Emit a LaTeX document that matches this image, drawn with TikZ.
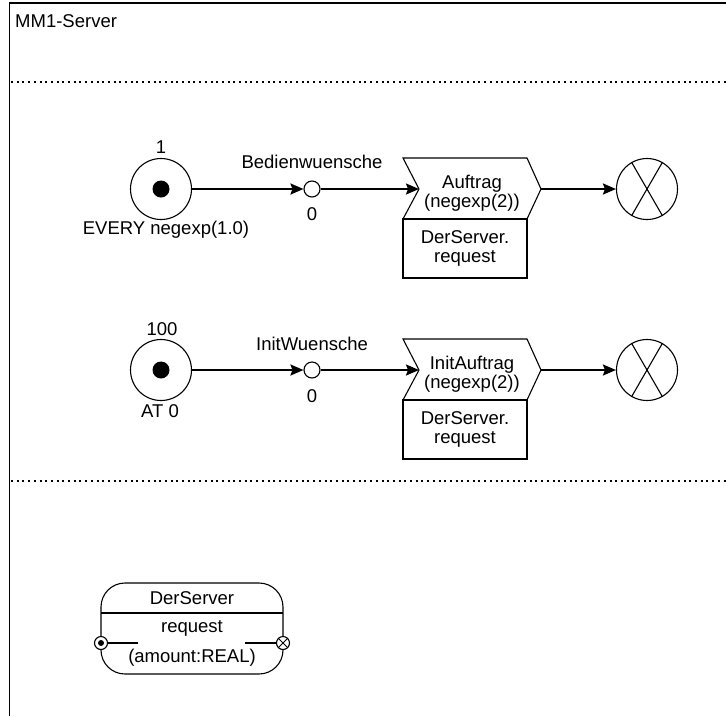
\documentclass[tikz,border=0pt]{standalone}
\usepackage{fontspec}
\setmainfont{Liberation Sans}
\usetikzlibrary{arrows.meta}
\begin{document}
\begin{tikzpicture}[x=1pt,y=-1pt,
  every node/.style={font=\fontsize{18.5}{21}\selectfont},
  lbl/.style={inner sep=0pt},
  srccirc/.style={draw,circle,line width=1.1pt,minimum size=61pt,inner sep=0pt},
  srcdot/.style={fill,circle,minimum size=17pt,inner sep=0pt},
  placecirc/.style={draw,circle,line width=1.1pt,minimum size=16pt,inner sep=0pt,fill=white},
  sinkcirc/.style={draw,circle,line width=1.1pt,minimum size=61pt,inner sep=0pt},
  portcirc/.style={draw,circle,line width=1.1pt,minimum size=13pt,inner sep=0pt},
  flow/.style={line width=2pt,-{Stealth[length=13pt,width=11pt,inset=2pt]}},
  thin/.style={line width=1.1pt},
  sep/.style={line width=2pt,dash pattern=on 2pt off 3.7pt},
  lowbox/.style={draw,line width=1.1pt,minimum width=124pt,minimum height=59pt,inner sep=0pt,align=center}
]
\useasboundingbox (0,0) rectangle (726,716);

% frame and section separators
\draw[line width=1.6pt] (9.5,716) -- (9.5,3) -- (726,3);
\node[lbl,anchor=west] (title) at (15,21) {MM1-Server};
\draw[sep] (11,82) -- (726,82);
\draw[sep] (11,481) -- (726,481);

% ---------- first row ----------
\node[srccirc] (s1) at (161,189) {};
\node[srcdot] (s1dot) at (s1.center) {};
\node[lbl] (s1top) at (161,147) {1};
\node[lbl] (s1bot) at (166,230) {EVERY negexp(1.0)};

\node[placecirc] (p1) at (312,189) {};
\node[lbl] (p1name) at (312,162) {Bedienwuensche};
\node[lbl] (p1tok) at (312,214) {0};

\coordinate (a1in) at (419,189);
\coordinate (a1out) at (541,189);
\draw[thin,fill=white] (403,158) -- (527,158) -- (a1out) -- (527,219) -- (403,219) -- (a1in) -- cycle;
\node[lbl,align=center] (a1txt) at (472,193) {Auftrag\\[-2pt](negexp(2))};
\node[lowbox] (b1) at (465,248.5) {DerServer.\\[-2pt]request};

\node[sinkcirc] (k1) at (647,189) {};
\draw[thin] (k1.120) -- (k1.-60) (k1.60) -- (k1.-120);

\draw[flow] (s1) -- (p1);
\draw[flow] (p1) -- (a1in);
\draw[flow] (a1out) -- (k1);

% ---------- second row ----------
\node[srccirc] (s2) at (161,370) {};
\node[srcdot] (s2dot) at (s2.center) {};
\node[lbl] (s2top) at (162,329) {100};
\node[lbl] (s2bot) at (160,411) {AT 0};

\node[placecirc] (p2) at (312,370) {};
\node[lbl] (p2name) at (312,344) {InitWuensche};
\node[lbl] (p2tok) at (312,396) {0};

\coordinate (a2in) at (419,370);
\coordinate (a2out) at (541,370);
\draw[thin,fill=white] (403,339) -- (527,339) -- (a2out) -- (527,400) -- (403,400) -- (a2in) -- cycle;
\node[lbl,align=center] (a2txt) at (472,374) {InitAuftrag\\[-2pt](negexp(2))};
\node[lowbox] (b2) at (465,429.5) {DerServer.\\[-2pt]request};

\node[sinkcirc] (k2) at (647,370) {};
\draw[thin] (k2.120) -- (k2.-60) (k2.60) -- (k2.-120);

\draw[flow] (s2) -- (p2);
\draw[flow] (p2) -- (a2in);
\draw[flow] (a2out) -- (k2);

% ---------- module DerServer ----------
\node[portcirc] (lp) at (101,643) {};
\node[fill,circle,minimum size=6pt,inner sep=0pt] (lpdot) at (lp.center) {};
\node[portcirc] (rp) at (283,643) {};
\draw[line width=0.9pt] (rp.45) -- (rp.-135) (rp.135) -- (rp.-45);

\draw[thin,rounded corners=24pt] (lp.north) -- (101,583) -- (283,583) -- (rp.north);
\draw[thin,rounded corners=24pt] (lp.south) -- (101,674) -- (283,674) -- (rp.south);
\draw[thin] (101,613) -- (283,613);

\coordinate (lpend) at (138,643);
\coordinate (rpend) at (245,643);
\draw[thin] (lp.east) -- (lpend);
\draw[thin] (rpend) -- (rp.west);

\node[lbl] (mname) at (192,598) {DerServer};
\node[lbl] (mproc) at (192,628) {request};
\node[lbl] (mparam) at (192,658) {(amount:REAL)};
\end{tikzpicture}
\end{document}
